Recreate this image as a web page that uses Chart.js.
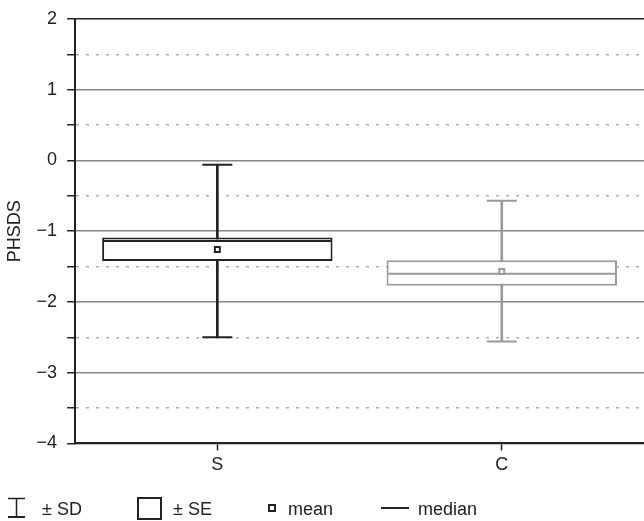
<!DOCTYPE html>
<html>
<head>
<meta charset="utf-8">
<title>PHSDS box plot</title>
<script src="https://cdn.jsdelivr.net/npm/chart.js@4.4.1/dist/chart.umd.min.js"></script>
<style>
    html, body { margin: 0; padding: 0; background: #fff; }
    #wrap { width: 644px; height: 521px; }
</style>
</head>
<body>
<div id="wrap"><canvas id="box-chart"></canvas></div>
<script>
    // Data
    var groups = ['S', 'C'];
    var sdHigh = [-0.06, -0.57];
    var sdLow = [-2.5, -2.56];
    var seHigh = [-1.09, -1.41];
    var seLow = [-1.42, -1.77];
    var medians = [-1.14, -1.60];
    var means = [-1.26, -1.57];
    var yTicks = [-4, -3, -2, -1, 0, 1, 2];
    var groupColors = ['#222222', '#9a9a9a'];
    var legendLabels = ['\u00b1 SD', '\u00b1 SE', 'mean', 'median'];

    var FONT = "'Liberation Sans', Arial, sans-serif";
    var INK = '#222222';

    Chart.defaults.font.family = FONT;
    Chart.defaults.font.size = 18;
    Chart.defaults.color = INK;

    var seBars = groups.map(function (g, i) { return [seLow[i], seHigh[i]]; });
    var sdBars = groups.map(function (g, i) { return [sdLow[i], sdHigh[i]]; });

    function minus(v) {
        return String(v).replace('-', '\u2212');
    }

    // Legend drawn under the axis, left aligned like the figure
    var legendBar = {
        id: 'legendBar',
        afterDraw: function (chart) {
            var c = chart.ctx;
            c.save();
            c.strokeStyle = INK;
            c.fillStyle = INK;

            // ± SD icon
            c.lineWidth = 1.5;
            c.beginPath();
            c.moveTo(8, 498.5); c.lineTo(25, 498.5);
            c.moveTo(16.5, 498); c.lineTo(16.5, 517);
            c.stroke();
            c.lineWidth = 2;
            c.beginPath();
            c.moveTo(8, 517); c.lineTo(25, 517);
            c.stroke();

            // ± SE icon
            c.strokeRect(138, 498, 23, 21);

            // mean icon
            c.strokeRect(269, 505, 6, 6);

            // median icon
            c.beginPath();
            c.moveTo(381, 508); c.lineTo(409, 508);
            c.stroke();

            c.font = '18px ' + FONT;
            c.textBaseline = 'alphabetic';
            c.fillText(legendLabels[0], 42, 515);
            c.fillText(legendLabels[1], 173, 515);
            c.fillText(legendLabels[2], 288, 515);
            c.fillText(legendLabels[3], 418, 515);
            c.restore();
        }
    };

    var canvas = document.getElementById('box-chart');
    new Chart(canvas.getContext('2d'), {
        type: 'bar',
        data: {
            labels: groups,
            datasets: [{
                type: 'line',
                label: 'mean',
                data: means,
                showLine: false,
                pointStyle: 'rect',
                pointRadius: 3.5,
                pointBorderWidth: 2,
                pointBackgroundColor: '#fff',
                pointBorderColor: groupColors,
                order: 0
            },
            {
                type: 'line',
                label: 'median',
                data: medians,
                showLine: false,
                pointStyle: 'line',
                pointRadius: 113.5,
                pointBorderWidth: 2,
                pointBorderColor: groupColors,
                order: 1
            },
            {
                label: 'SE',
                data: seBars,
                backgroundColor: '#fff',
                borderColor: groupColors,
                borderWidth: 2,
                borderSkipped: false,
                grouped: false,
                barPercentage: 0.81,
                categoryPercentage: 1,
                order: 2
            },
            {
                type: 'line',
                label: 'SD high',
                data: sdHigh,
                showLine: false,
                pointStyle: 'line',
                pointRadius: 15,
                pointBorderWidth: 2,
                pointBorderColor: groupColors,
                order: 3
            },
            {
                type: 'line',
                label: 'SD low',
                data: sdLow,
                showLine: false,
                pointStyle: 'line',
                pointRadius: 15,
                pointBorderWidth: 2,
                pointBorderColor: groupColors,
                order: 3
            },
            {
                label: 'SD',
                data: sdBars,
                backgroundColor: groupColors,
                barThickness: 2,
                grouped: false,
                order: 4
            }]
        },
        options: {
            responsive: true,
            maintainAspectRatio: false,
            animation: false,
            events: [],
            layout: {
                autoPadding: false,
                padding: { top: 17, right: 0, bottom: 41, left: 0 }
            },
            plugins: {
                legend: { display: false },
                tooltip: { enabled: false }
            },
            scales: {
                x: {
                    offset: true,
                    grid: {
                        offset: false,
                        drawOnChartArea: false,
                        tickLength: 7,
                        tickColor: INK,
                        tickWidth: 1.5
                    },
                    border: { color: INK, width: 2 },
                    ticks: { padding: 4, color: INK }
                },
                y: {
                    min: -4,
                    max: 2,
                    ticks: {
                        stepSize: 0.5,
                        autoSkip: false,
                        padding: 10,
                        color: INK,
                        font: { lineHeight: 1 },
                        callback: function (v) {
                            return yTicks.indexOf(v) >= 0 ? minus(v) : '';
                        }
                    },
                    grid: {
                        color: function (ctx) {
                            if (!ctx.tick) return '#888';
                            if (ctx.tick.value === 2) return INK;
                            return ctx.tick.value % 1 === 0 ? '#888888' : '#b0b0b0';
                        },
                        lineWidth: 1.5,
                        tickLength: 8,
                        tickColor: INK,
                        tickWidth: 1.5
                    },
                    border: {
                        color: INK,
                        width: 2,
                        dash: function (ctx) {
                            return ctx.tick && ctx.tick.value % 1 !== 0 ? [3, 7] : [];
                        }
                    },
                    title: {
                        display: true,
                        text: 'PHSDS',
                        color: INK,
                        padding: { top: 4, bottom: 1 }
                    }
                }
            }
        },
        plugins: [legendBar]
    });
</script>
</body>
</html>
